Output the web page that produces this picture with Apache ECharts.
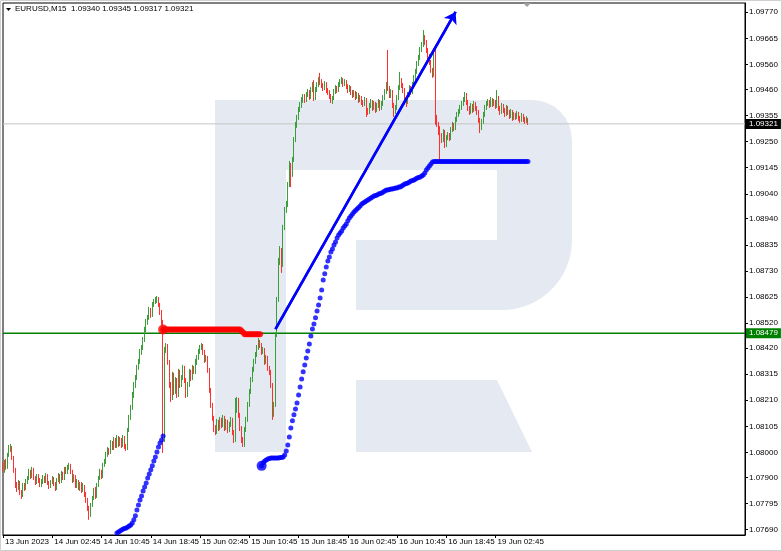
<!DOCTYPE html>
<html><head><meta charset="utf-8">
<script src="https://cdn.jsdelivr.net/npm/echarts@6/dist/echarts.min.js"></script>
<style>html,body{margin:0;padding:0;background:#fff}#c{width:782px;height:551px}</style>
</head><body><div id="c"></div>
<script>
const titleText = 'EURUSD,M15  1.09340 1.09345 1.09317 1.09321';
const yTicks = [1.07690,1.07795,1.07900,1.08000,1.08105,1.08210,1.08315,1.08420,1.08520,1.08625,1.08730,1.08835,1.08940,1.09040,1.09145,1.09250,1.09355,1.09460,1.09560,1.09665,1.09770];
const xTickCategories = ['13 Jun 18:45','14 Jun 02:45','14 Jun 10:45','14 Jun 18:45','15 Jun 02:45','15 Jun 10:45','15 Jun 18:45','16 Jun 02:45','16 Jun 10:45','16 Jun 18:45','19 Jun 02:45'];
const xTickLabels = ['13 Jun 2023','14 Jun 02:45','14 Jun 10:45','14 Jun 18:45','15 Jun 02:45','15 Jun 10:45','15 Jun 18:45','16 Jun 02:45','16 Jun 10:45','16 Jun 18:45','19 Jun 02:45'];
// [open, close, low, high]
const ohlc = [
[1.07950,1.07930,1.07922,1.07962],[1.07930,1.07962,1.07918,1.07970],[1.07962,1.07938,1.07930,1.07974],[1.07938,1.07990,1.07934,1.07998],
[1.07990,1.08010,1.07982,1.08030],[1.08010,1.08018,1.08002,1.08034],[1.08018,1.07978,1.07970,1.08026],[1.07978,1.07930,1.07918,1.07986],
[1.07930,1.07869,1.07857,1.07938],[1.07869,1.07857,1.07841,1.07881],[1.07857,1.07877,1.07849,1.07889],[1.07877,1.07841,1.07829,1.07885],
[1.07841,1.07829,1.07813,1.07849],[1.07829,1.07869,1.07821,1.07877],[1.07869,1.07857,1.07845,1.07877],[1.07857,1.07881,1.07849,1.07893],
[1.07881,1.07897,1.07873,1.07905],[1.07897,1.07922,1.07889,1.07934],[1.07922,1.07905,1.07893,1.07930],[1.07905,1.07930,1.07897,1.07942],
[1.07930,1.07897,1.07889,1.07938],[1.07897,1.07881,1.07869,1.07905],[1.07881,1.07905,1.07873,1.07913],[1.07905,1.07889,1.07877,1.07913],
[1.07889,1.07869,1.07861,1.07897],[1.07869,1.07881,1.07861,1.07893],[1.07881,1.07897,1.07873,1.07909],[1.07897,1.07885,1.07877,1.07905],
[1.07885,1.07905,1.07877,1.07917],[1.07905,1.07877,1.07869,1.07913],[1.07877,1.07865,1.07853,1.07885],[1.07865,1.07881,1.07857,1.07889],
[1.07881,1.07893,1.07873,1.07905],[1.07893,1.07873,1.07865,1.07901],[1.07873,1.07857,1.07845,1.07881],[1.07857,1.07889,1.07849,1.07897],
[1.07889,1.07905,1.07881,1.07917],[1.07905,1.07881,1.07873,1.07913],[1.07881,1.07913,1.07877,1.07926],[1.07913,1.07897,1.07889,1.07922],
[1.07897,1.07930,1.07889,1.07942],[1.07930,1.07922,1.07913,1.07942],[1.07922,1.07938,1.07913,1.07950],[1.07938,1.07946,1.07930,1.07958],
[1.07946,1.07922,1.07913,1.07954],[1.07922,1.07889,1.07877,1.07930],[1.07889,1.07905,1.07881,1.07913],[1.07905,1.07865,1.07857,1.07909],
[1.07865,1.07881,1.07857,1.07893],[1.07881,1.07857,1.07849,1.07889],[1.07857,1.07873,1.07845,1.07881],[1.07873,1.07849,1.07837,1.07881],
[1.07849,1.07865,1.07841,1.07877],[1.07865,1.07833,1.07821,1.07869],[1.07833,1.07809,1.07797,1.07841],[1.07809,1.07777,1.07765,1.07817],
[1.07777,1.07749,1.07729,1.07785],[1.07749,1.07789,1.07741,1.07797],[1.07789,1.07817,1.07781,1.07825],[1.07817,1.07849,1.07809,1.07857],
[1.07849,1.07825,1.07813,1.07861],[1.07825,1.07869,1.07817,1.07877],[1.07869,1.07897,1.07861,1.07905],[1.07897,1.07922,1.07889,1.07934],
[1.07922,1.07905,1.07893,1.07930],[1.07905,1.07950,1.07897,1.07958],[1.07950,1.07962,1.07942,1.07974],[1.07962,1.07990,1.07954,1.08002],
[1.07990,1.08010,1.07982,1.08022],[1.08010,1.08002,1.07990,1.08018],[1.08002,1.08038,1.07994,1.08050],[1.08038,1.08018,1.08010,1.08046],
[1.08018,1.08050,1.08010,1.08062],[1.08050,1.08026,1.08018,1.08058],[1.08026,1.08058,1.08018,1.08070],[1.08058,1.08034,1.08022,1.08066],
[1.08034,1.08050,1.08026,1.08062],[1.08050,1.08030,1.08018,1.08058],[1.08030,1.08058,1.08022,1.08070],[1.08058,1.08026,1.08014,1.08066],
[1.08026,1.08018,1.08006,1.08034],[1.08018,1.08090,1.08010,1.08098],[1.08090,1.08139,1.08082,1.08151],[1.08139,1.08179,1.08131,1.08191],
[1.08179,1.08231,1.08171,1.08243],[1.08231,1.08271,1.08219,1.08283],[1.08271,1.08299,1.08259,1.08311],[1.08299,1.08340,1.08291,1.08352],
[1.08340,1.08364,1.08332,1.08376],[1.08364,1.08404,1.08356,1.08416],[1.08404,1.08420,1.08392,1.08432],[1.08420,1.08452,1.08412,1.08464],
[1.08452,1.08492,1.08444,1.08505],[1.08492,1.08525,1.08484,1.08537],[1.08525,1.08541,1.08513,1.08553],[1.08541,1.08573,1.08533,1.08585],
[1.08573,1.08553,1.08541,1.08581],[1.08553,1.08593,1.08545,1.08605],[1.08593,1.08605,1.08585,1.08617],[1.08605,1.08613,1.08597,1.08625],
[1.08613,1.08621,1.08601,1.08629],[1.08621,1.08593,1.08585,1.08625],[1.08593,1.08565,1.08553,1.08601],[1.08565,1.08525,1.08513,1.08573],
[1.08525,1.08062,1.07998,1.08533],[1.08062,1.08412,1.08042,1.08424],[1.08412,1.08428,1.08400,1.08440],[1.08428,1.08364,1.08352,1.08436],
[1.08364,1.08271,1.08259,1.08372],[1.08271,1.08219,1.08203,1.08283],[1.08219,1.08311,1.08211,1.08324],[1.08311,1.08243,1.08231,1.08320],
[1.08243,1.08291,1.08235,1.08303],[1.08291,1.08231,1.08219,1.08299],[1.08231,1.08324,1.08223,1.08336],[1.08324,1.08271,1.08259,1.08332],
[1.08271,1.08299,1.08263,1.08311],[1.08299,1.08340,1.08291,1.08352],[1.08340,1.08291,1.08279,1.08348],[1.08291,1.08231,1.08219,1.08299],
[1.08231,1.08271,1.08223,1.08283],[1.08271,1.08324,1.08263,1.08336],[1.08324,1.08299,1.08287,1.08332],[1.08299,1.08340,1.08291,1.08352],
[1.08340,1.08324,1.08315,1.08348],[1.08324,1.08364,1.08315,1.08376],[1.08364,1.08380,1.08352,1.08392],[1.08380,1.08404,1.08372,1.08416],
[1.08404,1.08420,1.08396,1.08432],[1.08420,1.08428,1.08412,1.08440],[1.08428,1.08404,1.08392,1.08436],[1.08404,1.08372,1.08360,1.08412],
[1.08372,1.08380,1.08364,1.08392],[1.08380,1.08332,1.08320,1.08388],[1.08332,1.08251,1.08239,1.08340],[1.08251,1.08191,1.08179,1.08259],
[1.08191,1.08139,1.08127,1.08199],[1.08139,1.08098,1.08082,1.08147],[1.08098,1.08082,1.08070,1.08110],[1.08082,1.08123,1.08074,1.08135],
[1.08123,1.08098,1.08086,1.08131],[1.08098,1.08131,1.08090,1.08143],[1.08131,1.08111,1.08098,1.08139],[1.08111,1.08139,1.08102,1.08151],
[1.08139,1.08098,1.08086,1.08147],[1.08098,1.08123,1.08090,1.08135],[1.08123,1.08090,1.08078,1.08131],[1.08090,1.08111,1.08082,1.08123],
[1.08111,1.08131,1.08102,1.08143],[1.08131,1.08082,1.08070,1.08139],[1.08082,1.08050,1.08038,1.08090],[1.08050,1.08171,1.08042,1.08219],
[1.08171,1.08211,1.08159,1.08223],[1.08211,1.08151,1.08139,1.08219],[1.08151,1.08098,1.08086,1.08159],[1.08098,1.08050,1.08038,1.08106],
[1.08050,1.08030,1.08022,1.08062],[1.08030,1.08090,1.08022,1.08102],[1.08090,1.08131,1.08082,1.08143],[1.08131,1.08191,1.08123,1.08203],
[1.08191,1.08243,1.08183,1.08255],[1.08243,1.08291,1.08235,1.08303],[1.08291,1.08332,1.08283,1.08344],[1.08332,1.08364,1.08324,1.08376],
[1.08364,1.08392,1.08356,1.08404],[1.08392,1.08420,1.08384,1.08432],[1.08420,1.08444,1.08412,1.08460],[1.08444,1.08432,1.08420,1.08452],
[1.08432,1.08404,1.08392,1.08440],[1.08404,1.08412,1.08396,1.08424],[1.08412,1.08364,1.08352,1.08420],[1.08364,1.08380,1.08356,1.08392],
[1.08380,1.08340,1.08328,1.08388],[1.08340,1.08324,1.08311,1.08348],[1.08324,1.08271,1.08259,1.08332],[1.08271,1.08151,1.08131,1.08279],
[1.08151,1.08191,1.08143,1.08203],[1.08191,1.08472,1.08183,1.08484],[1.08472,1.08613,1.08464,1.08625],[1.08613,1.08766,1.08605,1.08782],
[1.08766,1.08814,1.08754,1.08830],[1.08814,1.08754,1.08722,1.08822],[1.08754,1.08902,1.08746,1.08915],[1.08902,1.08975,1.08894,1.08987],
[1.08975,1.08995,1.08963,1.09011],[1.08995,1.09075,1.08987,1.09087],[1.09075,1.09156,1.09067,1.09172],[1.09156,1.09116,1.09067,1.09164],
[1.09116,1.09176,1.09108,1.09188],[1.09176,1.09256,1.09168,1.09268],[1.09256,1.09317,1.09248,1.09329],[1.09317,1.09345,1.09305,1.09357],
[1.09345,1.09377,1.09337,1.09389],[1.09377,1.09397,1.09369,1.09409],[1.09397,1.09417,1.09385,1.09429],[1.09417,1.09429,1.09405,1.09441],
[1.09429,1.09417,1.09405,1.09441],[1.09417,1.09437,1.09409,1.09449],[1.09437,1.09449,1.09429,1.09461],[1.09449,1.09429,1.09417,1.09457],
[1.09429,1.09457,1.09421,1.09469],[1.09457,1.09477,1.09449,1.09489],[1.09477,1.09425,1.09413,1.09497],[1.09425,1.09457,1.09417,1.09469],
[1.09457,1.09477,1.09449,1.09489],[1.09477,1.09497,1.09469,1.09509],[1.09497,1.09489,1.09477,1.09526],[1.09489,1.09477,1.09465,1.09501],
[1.09477,1.09465,1.09453,1.09485],[1.09465,1.09481,1.09457,1.09493],[1.09481,1.09457,1.09445,1.09489],[1.09457,1.09449,1.09437,1.09465],
[1.09449,1.09433,1.09421,1.09457],[1.09433,1.09417,1.09405,1.09441],[1.09417,1.09425,1.09401,1.09433],[1.09425,1.09449,1.09417,1.09461],
[1.09449,1.09465,1.09441,1.09477],[1.09465,1.09457,1.09445,1.09473],[1.09457,1.09477,1.09449,1.09489],[1.09477,1.09489,1.09469,1.09501],
[1.09489,1.09497,1.09481,1.09510],[1.09497,1.09481,1.09469,1.09505],[1.09481,1.09489,1.09473,1.09501],[1.09489,1.09473,1.09461,1.09497],
[1.09473,1.09457,1.09445,1.09481],[1.09457,1.09465,1.09449,1.09477],[1.09465,1.09449,1.09437,1.09473],[1.09449,1.09437,1.09425,1.09457],
[1.09437,1.09445,1.09429,1.09457],[1.09445,1.09429,1.09417,1.09453],[1.09429,1.09437,1.09421,1.09449],[1.09437,1.09417,1.09405,1.09445],
[1.09417,1.09425,1.09409,1.09437],[1.09425,1.09409,1.09397,1.09433],[1.09409,1.09401,1.09389,1.09417],[1.09401,1.09417,1.09393,1.09429],
[1.09417,1.09377,1.09349,1.09425],[1.09377,1.09369,1.09357,1.09385],[1.09369,1.09393,1.09361,1.09405],[1.09393,1.09409,1.09385,1.09421],
[1.09409,1.09385,1.09373,1.09417],[1.09385,1.09401,1.09377,1.09413],[1.09401,1.09377,1.09365,1.09409],[1.09377,1.09393,1.09369,1.09405],
[1.09393,1.09409,1.09385,1.09421],[1.09409,1.09385,1.09373,1.09417],[1.09385,1.09401,1.09377,1.09413],[1.09401,1.09425,1.09393,1.09437],
[1.09425,1.09449,1.09417,1.09461],[1.09449,1.09477,1.09441,1.09489],[1.09477,1.09465,1.09453,1.09618],[1.09465,1.09437,1.09425,1.09473],
[1.09437,1.09449,1.09425,1.09461],[1.09449,1.09397,1.09385,1.09457],[1.09397,1.09369,1.09349,1.09405],[1.09369,1.09385,1.09361,1.09397],
[1.09385,1.09425,1.09377,1.09437],[1.09425,1.09465,1.09417,1.09477],[1.09465,1.09497,1.09457,1.09530],[1.09497,1.09477,1.09465,1.09505],
[1.09477,1.09457,1.09445,1.09485],[1.09457,1.09425,1.09413,1.09465],[1.09425,1.09409,1.09389,1.09433],[1.09409,1.09437,1.09401,1.09449],
[1.09437,1.09465,1.09429,1.09477],[1.09465,1.09449,1.09437,1.09473],[1.09449,1.09477,1.09441,1.09489],[1.09477,1.09505,1.09469,1.09517],
[1.09505,1.09530,1.09497,1.09542],[1.09530,1.09562,1.09522,1.09574],[1.09562,1.09586,1.09554,1.09598],[1.09586,1.09618,1.09578,1.09630],
[1.09618,1.09638,1.09610,1.09650],[1.09638,1.09666,1.09630,1.09698],[1.09666,1.09650,1.09638,1.09678],[1.09650,1.09618,1.09606,1.09658],
[1.09618,1.09594,1.09582,1.09626],[1.09594,1.09570,1.09558,1.09602],[1.09570,1.09538,1.09526,1.09578],[1.09538,1.09518,1.09506,1.09546],
[1.09518,1.09610,1.09510,1.09622],[1.09610,1.09345,1.09317,1.09630],[1.09345,1.09321,1.09309,1.09357],[1.09321,1.09304,1.09276,1.09329],
[1.09304,1.09276,1.09176,1.09312],[1.09276,1.09256,1.09244,1.09284],[1.09256,1.09288,1.09248,1.09300],[1.09288,1.09236,1.09224,1.09296],
[1.09236,1.09264,1.09228,1.09276],[1.09264,1.09276,1.09256,1.09288],[1.09276,1.09264,1.09252,1.09284],[1.09264,1.09296,1.09256,1.09308],
[1.09296,1.09317,1.09288,1.09329],[1.09317,1.09304,1.09292,1.09325],[1.09304,1.09337,1.09296,1.09349],[1.09337,1.09357,1.09329,1.09369],
[1.09357,1.09369,1.09349,1.09381],[1.09369,1.09385,1.09361,1.09397],[1.09385,1.09401,1.09377,1.09413],[1.09401,1.09417,1.09393,1.09429],
[1.09417,1.09437,1.09409,1.09449],[1.09437,1.09409,1.09397,1.09445],[1.09409,1.09385,1.09373,1.09417],[1.09385,1.09369,1.09357,1.09393],
[1.09369,1.09393,1.09361,1.09405],[1.09393,1.09377,1.09365,1.09401],[1.09377,1.09401,1.09369,1.09413],[1.09401,1.09385,1.09373,1.09409],
[1.09385,1.09369,1.09357,1.09393],[1.09369,1.09337,1.09325,1.09377],[1.09337,1.09304,1.09284,1.09345],[1.09304,1.09329,1.09296,1.09341],
[1.09329,1.09357,1.09321,1.09369],[1.09357,1.09385,1.09349,1.09397],[1.09385,1.09401,1.09377,1.09413],[1.09401,1.09409,1.09393,1.09421],
[1.09409,1.09397,1.09385,1.09417],[1.09397,1.09417,1.09389,1.09429],[1.09417,1.09401,1.09389,1.09425],[1.09401,1.09409,1.09393,1.09421],
[1.09409,1.09393,1.09381,1.09417],[1.09393,1.09425,1.09385,1.09457],[1.09425,1.09385,1.09373,1.09433],[1.09385,1.09369,1.09357,1.09393],
[1.09369,1.09393,1.09361,1.09405],[1.09393,1.09377,1.09365,1.09401],[1.09377,1.09361,1.09349,1.09385],[1.09361,1.09385,1.09353,1.09397],
[1.09385,1.09369,1.09357,1.09393],[1.09369,1.09353,1.09341,1.09377],[1.09353,1.09369,1.09345,1.09381],[1.09369,1.09345,1.09333,1.09377],
[1.09345,1.09357,1.09337,1.09369],[1.09357,1.09349,1.09337,1.09365],[1.09349,1.09361,1.09341,1.09373],[1.09361,1.09345,1.09333,1.09369],
[1.09345,1.09337,1.09325,1.09353],[1.09337,1.09353,1.09329,1.09365],[1.09353,1.09341,1.09329,1.09361],[1.09341,1.09333,1.09321,1.09349],
[1.09333,1.09340,1.09325,1.09352],[1.09340,1.09321,1.09317,1.09345]
];
const blueLeftStart = 74;
const blueLeft = [1.07676,1.07680,1.07684,1.07688,1.07692,1.07694,1.07696,1.07700,1.07704,1.07708,1.07716,1.07729,1.07745,1.07769,1.07789,1.07809,1.07825,1.07845,1.07861,1.07877,1.07897,1.07913,1.07930,1.07946,1.07966,1.07982,1.08002,1.08022,1.08038,1.08050,1.08066];
const redStart = 104;
const redLine = [1.08494,1.08494,1.08494,1.08494,1.08494,1.08494,1.08494,1.08494,1.08494,1.08494,
1.08494,1.08494,1.08494,1.08494,1.08494,1.08494,1.08494,1.08494,1.08494,1.08494,
1.08494,1.08494,1.08494,1.08494,1.08494,1.08494,1.08494,1.08494,1.08494,1.08494,
1.08494,1.08494,1.08494,1.08494,1.08494,1.08494,1.08494,1.08494,1.08494,1.08494,
1.08494,1.08494,1.08494,1.08494,1.08494,1.08494,1.08494,1.08494,1.08494,1.08494,
1.08494,1.08488,1.08482,1.08475,1.08475,1.08475,1.08475,1.08475,1.08475,1.08475,1.08475,1.08475,1.08475,1.08475];
const blueRightStart = 168;
const blueRight = [1.07946,1.07958,1.07966,1.07970,1.07974,1.07976,1.07978,1.07978,1.07978,1.07978,
1.07978,1.07978,1.07980,1.07980,1.07982,1.07990,1.08006,1.08030,1.08062,1.08098,
1.08127,1.08151,1.08175,1.08199,1.08231,1.08263,1.08295,1.08324,1.08352,1.08380,
1.08408,1.08436,1.08468,1.08496,1.08516,1.08541,1.08569,1.08593,1.08621,1.08653,
1.08693,1.08718,1.08746,1.08770,1.08786,1.08806,1.08818,1.08834,1.08846,1.08862,
1.08874,1.08882,1.08890,1.08902,1.08910,1.08918,1.08931,1.08943,1.08951,1.08959,
1.08967,1.08973,1.08979,1.08985,1.08991,1.08999,1.09003,1.09007,1.09011,1.09015,
1.09019,1.09023,1.09027,1.09031,1.09033,1.09035,1.09039,1.09041,1.09043,1.09047,
1.09051,1.09055,1.09055,1.09057,1.09059,1.09059,1.09061,1.09063,1.09063,1.09067,
1.09067,1.09071,1.09075,1.09079,1.09081,1.09083,1.09087,1.09091,1.09093,1.09095,
1.09099,1.09103,1.09105,1.09107,1.09111,1.09115,1.09123,1.09136,1.09144,1.09152,
1.09160,1.09168,1.09170,1.09170,1.09170,1.09170,1.09170,1.09170,1.09170,1.09170,
1.09170,1.09170,1.09170,1.09170,1.09170,1.09170,1.09170,1.09170,1.09170,1.09170,
1.09170,1.09170,1.09170,1.09170,1.09170,1.09170,1.09170,1.09170,1.09170,1.09170,
1.09170,1.09170,1.09170,1.09170,1.09170,1.09170,1.09170,1.09170,1.09170,1.09170,
1.09170,1.09170,1.09170,1.09170,1.09170,1.09170,1.09170,1.09170,1.09170,1.09170,
1.09170,1.09170,1.09170,1.09170,1.09170,1.09170,1.09170,1.09170,1.09170,1.09170,
1.09170,1.09170,1.09170,1.09170];
const trendLine = [[177, 1.08496], [294, 1.09771]];
const supportLevel = 1.08479;
const lastPrice = 1.09321;
const totalBars = 483;
const yMin = 1.07668, yMax = 1.09807;

const months = ['Jan','Feb','Mar','Apr','May','Jun','Jul','Aug','Sep','Oct','Nov','Dec'];
const pad = n => String(n).padStart(2, '0');
const categories = [];
let t = Date.UTC(2023, 5, 13, 18, 45);
while (categories.length < totalBars) {
  const d = new Date(t);
  const wd = d.getUTCDay();
  if (wd !== 0 && wd !== 6) categories.push(d.getUTCDate() + ' ' + months[d.getUTCMonth()] + ' ' + pad(d.getUTCHours()) + ':' + pad(d.getUTCMinutes()));
  t += 15 * 60000;
}
const toPairs = (start, arr) => arr.map((v, k) => [start + k, v]);
const hLine = v => [[0, v], [totalBars - 1, v]];

const FONT = "'Liberation Sans',Arial,sans-serif";
const FS = 8;
const WM = '#e5eaf2';
const priceTag = (v, bg) => ({show: true, distance: 1, formatter: () => v.toFixed(5), color: '#fff', backgroundColor: bg,
  padding: [1, 3, 1, 3], fontSize: FS, fontFamily: FONT, align: 'left', verticalAlign: 'middle'});
const chart = echarts.init(document.getElementById('c'), null, {renderer: 'canvas'});
chart.setOption({
  animation: false,
  backgroundColor: '#ffffff',
  title: {text: titleText, left: 15, top: 5, padding: 0,
    textStyle: {fontSize: FS, fontWeight: 'normal', color: '#000', fontFamily: FONT}},
  grid: {left: 3, right: 37, top: 3, bottom: 16, show: true, borderColor: '#000', borderWidth: 1, outerBoundsMode: 'none'},
  graphic: [
    {type: 'rect', z: 0, shape: {x: 215, y: 100, width: 357, height: 210, r: [0, 40, 70, 0]}, style: {fill: WM}},
    {type: 'rect', z: 0, shape: {x: 286, y: 170, width: 211, height: 70}, style: {fill: '#fff'}},
    {type: 'rect', z: 0, shape: {x: 286, y: 240, width: 70, height: 70}, style: {fill: '#fff'}},
    {type: 'rect', z: 0, shape: {x: 215, y: 100, width: 71, height: 352}, style: {fill: WM}},
    {type: 'polygon', z: 0, shape: {points: [[356, 380], [497, 380], [532, 452], [356, 452]]}, style: {fill: WM}},
    {type: 'polygon', z: 5, shape: {points: [[6, 8], [11, 8], [8.5, 11]]}, style: {fill: '#000'}},
    {type: 'polygon', z: 5, shape: {points: [[523, 3], [531, 3], [527, 7]]}, style: {fill: '#a0a0a0'}},
    {type: 'rect', z: 5, shape: {x: 0.5, y: 0.5, width: 781, height: 550}, style: {fill: 'none', stroke: '#d0d0d0', lineWidth: 1}}
  ],
  xAxis: {
    type: 'category', data: categories, boundaryGap: false,
    axisLine: {show: true, lineStyle: {color: '#000', width: 1}},
    axisTick: {show: true, length: 3, interval: (i, v) => xTickCategories.includes(v), lineStyle: {color: '#000'}},
    axisLabel: {show: true, interval: (i, v) => xTickCategories.includes(v), align: 'left', margin: 3, padding: [0, 0, 0, 2],
      hideOverlap: false, fontSize: FS, color: '#000', fontFamily: FONT,
      formatter: v => xTickLabels[xTickCategories.indexOf(v)]},
    splitLine: {show: false}
  },
  yAxis: {
    type: 'value', position: 'right', min: yMin, max: yMax, scale: true,
    axisLine: {show: true, lineStyle: {color: '#000', width: 1}},
    axisTick: {show: true, length: 3, customValues: yTicks, lineStyle: {color: '#000'}},
    axisLabel: {show: true, customValues: yTicks, margin: 4, fontSize: FS, color: '#000', fontFamily: FONT,
      formatter: v => v.toFixed(5)},
    splitLine: {show: false}
  },
  series: [
    {type: 'line', data: hLine(lastPrice), symbol: 'none', z: 1, silent: true,
      lineStyle: {color: '#c4c4c4', width: 1}, endLabel: priceTag(lastPrice, '#000')},
    {type: 'line', data: hLine(supportLevel), symbol: 'none', z: 2, silent: true,
      lineStyle: {color: '#008000', width: 1.5}, endLabel: priceTag(supportLevel, '#008000')},
    {
      type: 'candlestick', data: ohlc, barWidth: 1, z: 3,
      itemStyle: {color: '#3a9e3a', color0: '#ff3030', borderColor: '#3a9e3a', borderColor0: '#ff3030', borderWidth: 1}
    },
    {type: 'scatter', data: toPairs(blueLeftStart, blueLeft), symbolSize: 5, itemStyle: {color: '#0000ff'}, z: 4, silent: true},
    {type: 'scatter', data: toPairs(redStart, redLine), symbolSize: 6, itemStyle: {color: '#ff0000'}, z: 4, silent: true},
    {type: 'scatter', data: toPairs(blueRightStart, blueRight), symbolSize: 5, itemStyle: {color: '#0000ff'}, z: 4, silent: true},
    {type: 'scatter', data: [[redStart, redLine[0]]], symbolSize: 10, itemStyle: {color: '#ff0000'}, z: 5, silent: true},
    {type: 'scatter', data: [[blueRightStart, blueRight[0]]], symbolSize: 10, itemStyle: {color: '#0000ff'}, z: 5, silent: true},
    {
      type: 'line', data: trendLine, symbol: 'none', z: 6, silent: true,
      lineStyle: {color: '#0000ff', width: 2.5},
      markLine: {silent: true, symbol: ['none', 'arrow'], symbolSize: 11,
        lineStyle: {color: '#0000ff', width: 2.5, type: 'solid'}, label: {show: false},
        data: [[{coord: trendLine[0]}, {coord: trendLine[1]}]]}
    }
  ]
});
</script></body></html>
